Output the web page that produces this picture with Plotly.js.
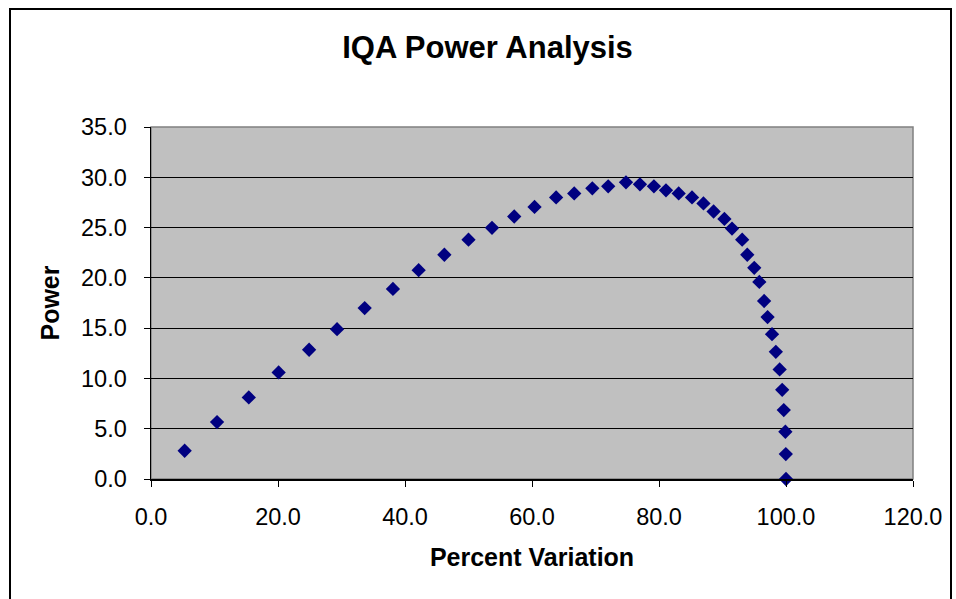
<!DOCTYPE html>
<html>
<head>
<meta charset="utf-8">
<script src="https://cdn.plot.ly/plotly-3.0.1.min.js"></script>
<style>
html,body{margin:0;padding:0;background:#fff;}
#wrap{position:relative;width:956px;height:599px;overflow:hidden;}
#chart{position:absolute;left:0;top:0;width:956px;height:599px;}
#frame{position:absolute;left:9px;top:8px;width:939px;height:620px;border:2px solid #000;pointer-events:none;}
</style>
</head>
<body>
<div id="wrap"><div id="chart"></div><div id="frame"></div></div>
<script>
const percentVariation = [5.3, 10.4, 15.4, 20.1, 24.9, 29.3, 33.65, 38.1, 42.15, 46.2, 50.0, 53.7, 57.2, 60.4, 63.8, 66.65, 69.5, 72.0, 74.8, 77.0, 79.2, 81.1, 83.1, 85.2, 87.0, 88.6, 90.3, 91.5, 93.1, 93.9, 95.0, 95.8, 96.55, 97.1, 97.8, 98.4, 99.0, 99.4, 99.65, 99.9, 99.97, 100.0];
const power = [2.81, 5.66, 8.11, 10.6, 12.85, 14.9, 17.0, 18.9, 20.76, 22.3, 23.8, 24.97, 26.1, 27.05, 28.0, 28.4, 28.9, 29.1, 29.5, 29.3, 29.1, 28.7, 28.4, 28.0, 27.4, 26.6, 25.86, 24.9, 23.8, 22.3, 21.0, 19.6, 17.7, 16.1, 14.4, 12.65, 10.9, 8.87, 6.85, 4.7, 2.48, 0.0];
const xTicks = [0, 20, 40, 60, 80, 100, 120];
const yTicks = [0, 5, 10, 15, 20, 25, 30, 35];

const font = "Liberation Sans, Arial, sans-serif";
const trace = {
  x: percentVariation, y: power, type: 'scatter', mode: 'markers',
  marker: {symbol: 'diamond', size: 11, color: '#000080'},
  hoverinfo: 'x+y', cliponaxis: false
};
const layout = {
  width: 956, height: 599,
  margin: {l: 150.5, r: 43, t: 127, b: 120},
  paper_bgcolor: '#ffffff', plot_bgcolor: '#c0c0c0',
  showlegend: false,
  font: {family: font, color: '#000', size: 23},
  title: {text: '<b>IQA Power Analysis</b>', x: 0.51, xanchor: 'center', y: 0.922, yanchor: 'middle', font: {family: font, size: 31, color: '#000'}},
  xaxis: {
    range: [0, 120], tickvals: xTicks, ticktext: xTicks.map(v => v.toFixed(1)),
    showgrid: false, zeroline: false, showline: true, linecolor: '#000', linewidth: 1.5,
    ticks: 'outside', ticklen: 6, tickcolor: '#000', tickwidth: 1,
    ticklabelstandoff: 10,
    tickfont: {family: font, size: 23.5},
    title: {text: '<b>Percent Variation</b>', standoff: 20, font: {family: font, size: 25}},
    mirror: false
  },
  yaxis: {
    range: [0, 35], tickvals: yTicks, ticktext: yTicks.map(v => v.toFixed(1)),
    showgrid: true, gridcolor: '#000', gridwidth: 1.2, zeroline: false,
    showline: true, linecolor: '#000', linewidth: 1.5,
    ticks: 'outside', ticklen: 6, tickcolor: '#000', tickwidth: 1,
    ticklabelstandoff: 12,
    tickfont: {family: font, size: 23.5},
    title: {text: '<b>Power</b>', standoff: 14, font: {family: font, size: 25}}
  },
  shapes: [
    {type: 'rect', xref: 'paper', yref: 'paper', x0: 0, x1: 1, y0: 0, y1: 1, line: {color: '#808080', width: 1.5}, layer: 'below'}
  ]
};
Plotly.newPlot('chart', [trace], layout, {displayModeBar: false, staticPlot: true});
</script>
</body>
</html>
